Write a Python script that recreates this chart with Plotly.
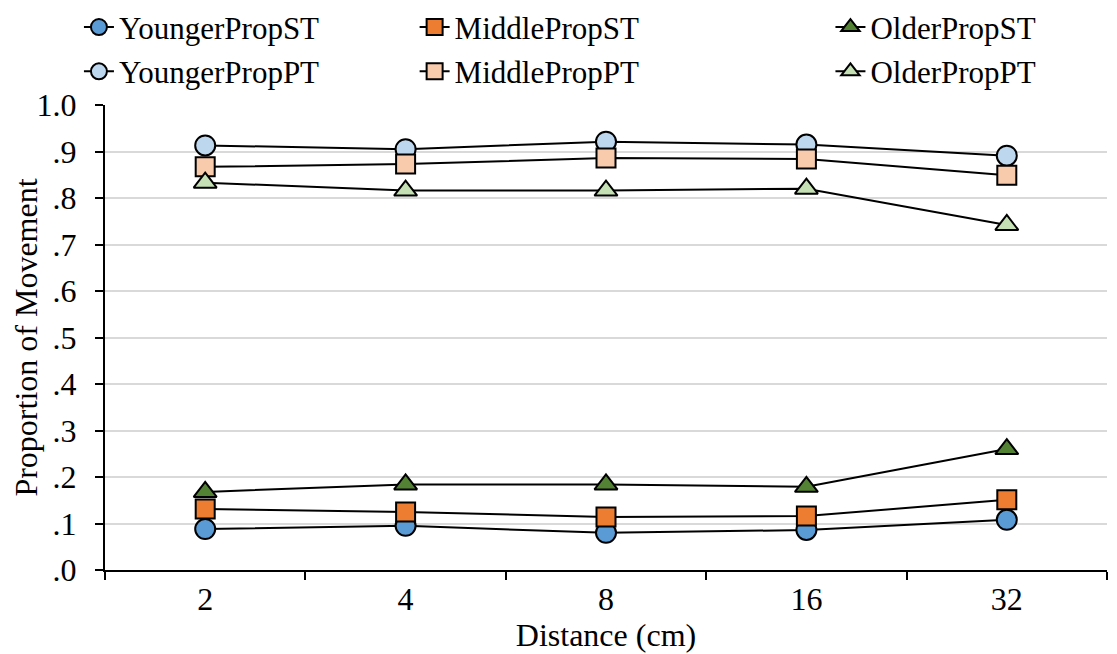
import plotly.graph_objects as go

distances = ["2", "4", "8", "16", "32"]
younger_st = [0.088, 0.095, 0.080, 0.086, 0.108]
middle_st = [0.131, 0.125, 0.114, 0.116, 0.151]
older_st = [0.168, 0.184, 0.184, 0.179, 0.260]
younger_pt = [0.913, 0.905, 0.921, 0.915, 0.891]
middle_pt = [0.867, 0.873, 0.886, 0.884, 0.849]
older_pt = [0.833, 0.816, 0.816, 0.820, 0.742]
y_tickvals = [0.0, 0.1, 0.2, 0.3, 0.4, 0.5, 0.6, 0.7, 0.8, 0.9, 1.0]
y_ticktext = [".0", ".1", ".2", ".3", ".4", ".5", ".6", ".7", ".8", ".9", "1.0"]

FONT = "Liberation Serif, Times New Roman, serif"

series = [
    ("YoungerPropST", younger_st, "circle", "#5B9BD5", "legend"),
    ("MiddlePropST", middle_st, "square", "#ED7D31", "legend2"),
    ("OlderPropST", older_st, "triangle-up", "#548235", "legend3"),
    ("YoungerPropPT", younger_pt, "circle", "#BDD7EE", "legend"),
    ("MiddlePropPT", middle_pt, "square", "#F8CBAD", "legend2"),
    ("OlderPropPT", older_pt, "triangle-up", "#C5E0B4", "legend3"),
]

fig = go.Figure()
for name, vals, sym, col, lg in series:
    fig.add_trace(go.Scatter(
        x=distances, y=vals, name=name, mode="lines+markers",
        line=dict(color="black", width=2),
        marker=dict(symbol=sym, size=20 if sym != "square" else 19, color=col,
                    line=dict(color="black", width=2)),
        legend=lg, legendgroup=name,
    ))

legend_common = dict(
    orientation="v", xref="paper", yref="paper", xanchor="left",
    yanchor="top", font=dict(family=FONT, size=31, color="black"),
    bgcolor="rgba(0,0,0,0)", tracegroupgap=1, itemwidth=30,
)

fig.update_layout(
    width=1109, height=646,
    margin=dict(l=97, r=10, t=97, b=84, autoexpand=False),
    paper_bgcolor="white", plot_bgcolor="white",
    font=dict(family=FONT, size=32, color="black"),
    legend=dict(x=-0.026, y=1.225, **legend_common),
    legend2=dict(x=0.309, y=1.225, **legend_common),
    legend3=dict(x=0.724, y=1.225, **legend_common),
    xaxis=dict(
        type="category", range=[-0.5, 4.5],
        showline=True, linecolor="black", linewidth=2,
        ticks="outside", tickson="boundaries", ticklen=8, tickwidth=2, tickcolor="black",
        showgrid=False, tickfont=dict(family=FONT, size=32), tickangle=0,
        title=dict(text="Distance (cm)", font=dict(family=FONT, size=32), standoff=4),
    ),
    yaxis=dict(
        range=[0, 1.0], tickvals=y_tickvals, ticktext=y_ticktext,
        showline=True, linecolor="black", linewidth=2,
        ticks="outside", ticklen=8, tickwidth=2, tickcolor="black",
        showgrid=True, gridcolor="#D9D9D9", gridwidth=1.5,
        zeroline=False, tickfont=dict(family=FONT, size=32),
        ticklabelstandoff=12,
        title=dict(text="Proportion of Movement", font=dict(family=FONT, size=32), standoff=18),
    ),
)

fig.write_html("out.html")
